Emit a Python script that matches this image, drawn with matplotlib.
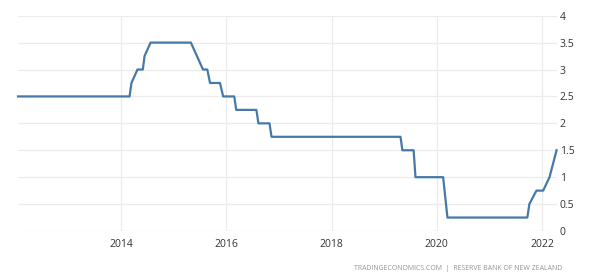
import numpy as np
import pandas as pd
import matplotlib.pyplot as plt
import matplotlib.dates as mdates

# vertices of the rate line (date, %)
dates = ["2012-01-15", "2014-02-28", "2014-03-13", "2014-04-24", "2014-05-31",
         "2014-06-12", "2014-07-24", "2015-04-30", "2015-06-11", "2015-07-23",
         "2015-08-22", "2015-09-10", "2015-11-18", "2015-12-10", "2016-02-25",
         "2016-03-10", "2016-07-28", "2016-08-11", "2016-10-27", "2016-11-10",
         "2019-04-25", "2019-05-08", "2019-07-25", "2019-08-07", "2020-02-15",
         "2020-03-16", "2021-09-22", "2021-10-06", "2021-11-24", "2022-01-10",
         "2022-02-23", "2022-04-13"]
rates = [2.5, 2.5, 2.75, 3.0, 3.0,
         3.25, 3.5, 3.5, 3.25, 3.0,
         3.0, 2.75, 2.75, 2.5, 2.5,
         2.25, 2.25, 2.0, 2.0, 1.75,
         1.75, 1.5, 1.5, 1.0, 1.0,
         0.25, 0.25, 0.5, 0.75, 0.75,
         1.0, 1.5]

year_ticks = ["2014", "2016", "2018", "2020", "2022"]
y_ticks = [0, 0.5, 1, 1.5, 2, 2.5, 3, 3.5, 4]
y_labels = ["0", "0.5", "1", "1.5", "2", "2.5", "3", "3.5", "4"]

plt.rcParams['font.family'] = ['Open Sans', 'DejaVu Sans']

x = pd.to_datetime(dates)

fig = plt.figure(figsize=(6.01, 2.8), dpi=100)
ax = fig.add_axes([18/601, 49/280, (557-18)/601, (231-15.7)/280])

ax.plot(x, rates, color="#4679a8", lw=1.6, solid_joinstyle="round", clip_on=False, zorder=3)

ax.set_xlim(x[0], pd.Timestamp("2022-04-16"))
ax.set_ylim(0, 4)

ax.set_xticks([pd.Timestamp(y + "-01-01") for y in year_ticks])
ax.set_xticklabels(year_ticks)
ax.set_yticks(y_ticks)
ax.set_yticklabels(y_labels)
ax.yaxis.tick_right()

for s in ax.spines.values():
    s.set_visible(False)
ax.grid(True, color="#ebebeb", lw=0.9)
ax.set_axisbelow(True)
ax.tick_params(axis="both", length=0, labelsize=7.5, colors="#333333")
ax.tick_params(axis="x", pad=6)
ax.tick_params(axis="y", pad=2)

fig.text(0.935, 0.042, "TRADINGECONOMICS.COM  |  RESERVE BANK OF NEW ZEALAND",
         ha="right", va="center", fontsize=5.0, color="#969696")

fig.savefig("out.png", dpi=100)
